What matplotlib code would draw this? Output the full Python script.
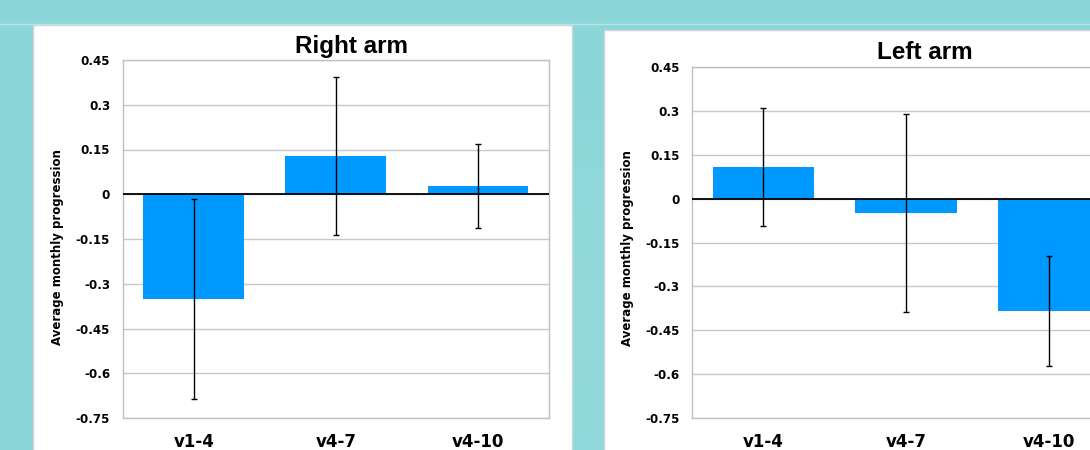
import numpy as np
import matplotlib.pyplot as plt
from matplotlib.patches import Rectangle

# data
categories = ['v1-4', 'v4-7', 'v4-10']
right_arm = [-0.350, 0.128, 0.027]
right_err = [0.335, 0.265, 0.140]
left_arm = [0.108, -0.048, -0.384]
left_err = [0.203, 0.339, 0.189]
yticks = [-0.75, -0.6, -0.45, -0.3, -0.15, 0, 0.15, 0.3, 0.45]
ytick_labels = ['-0.75', '-0.6', '-0.45', '-0.3', '-0.15', '0', '0.15', '0.3', '0.45']

W, H = 1090, 450
fig = plt.figure(figsize=(W / 100, H / 100), dpi=100)

# background: teal with a soft lighter patch in the middle
bg = fig.add_axes([0, 0, 1, 1], zorder=-5)
yy, xx = np.mgrid[0:H, 0:W]
d = np.sqrt(((xx - 590) / 420.0) ** 2 + ((yy - 320) / 260.0) ** 2)
light = np.clip(1 - d, 0, 1) * 0.35
base = np.array([0x8b, 0xd6, 0xd9]) / 255.0
top = np.array([0xa4, 0xe0, 0xe0]) / 255.0
img = base[None, None, :] * (1 - light[..., None]) + top[None, None, :] * light[..., None]
bg.imshow(img, extent=[0, W, H, 0], aspect='auto')
bg.set_xlim(0, W)
bg.set_ylim(H, 0)
bg.axis('off')
bg.plot([0, W], [23.5, 23.5], color='#b8e6e7', lw=1)
bg.add_patch(Rectangle((33, 24.5), 539, 440, facecolor='white', edgecolor='#d4d4d4', lw=1))
bg.add_patch(Rectangle((603.5, 29.5), 520, 440, facecolor='white', edgecolor='#d4d4d4', lw=1))


def draw_panel(rect, values, errs, title, title_xy, ylab_xy):
    ax = fig.add_axes(rect)
    x = np.arange(len(categories))
    ax.bar(x, values, width=0.71, color='#0099ff', zorder=2)
    ax.errorbar(x, values, yerr=errs, fmt='none', ecolor='black', elinewidth=1,
                capsize=2.5, capthick=1, zorder=4)
    ax.axhline(0, color='black', lw=1.3, zorder=3)
    ax.set_xlim(-0.5, 2.5)
    ax.set_ylim(-0.75, 0.45)
    ax.set_yticks(yticks)
    ax.set_yticklabels(ytick_labels, fontsize=8.6, fontweight='bold', family='DejaVu Sans')
    ax.set_xticks(x)
    ax.set_xticklabels(categories, fontsize=12, fontweight='bold', family='DejaVu Sans')
    ax.tick_params(axis='y', length=0, pad=9)
    ax.tick_params(axis='x', length=0, pad=10.5)
    ax.grid(axis='y', color='#c8c8c8', lw=1, zorder=0)
    ax.set_axisbelow(True)
    for s in ['left', 'top', 'right', 'bottom']:
        ax.spines[s].set_color('#c0c0c0')
        ax.spines[s].set_linewidth(1)
    ax.set_facecolor('white')
    fig.text(title_xy[0] / W, 1 - title_xy[1] / H, title, ha='center', va='baseline',
             fontsize=17.5, fontweight='bold', family='Liberation Sans')
    fig.text(ylab_xy[0] / W, 1 - ylab_xy[1] / H, 'Average monthly progression',
             rotation=90, ha='center', va='center', fontsize=8.5, fontweight='bold',
             family='DejaVu Sans')
    return ax


draw_panel([122.7 / W, 1 - 418 / H, 426.3 / W, 358 / H], right_arm, right_err,
           'Right arm', (351.5, 52.5), (58, 247))
draw_panel([692 / W, 1 - 418 / H, 427.8 / W, 351 / H], left_arm, left_err,
           'Left arm', (925, 59.3), (628, 248))

plt.savefig('out.png', dpi=100)
